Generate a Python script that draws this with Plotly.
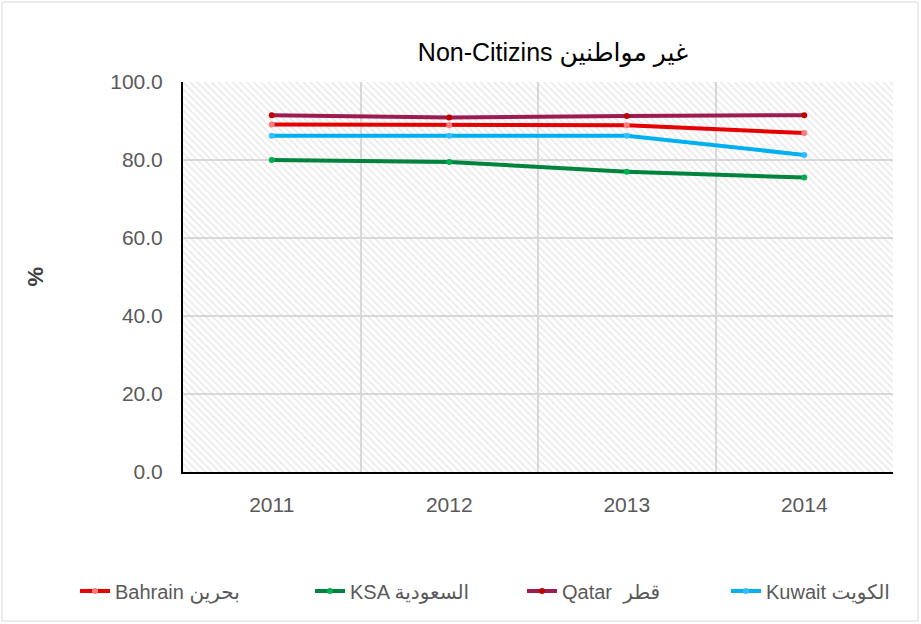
import plotly.graph_objects as go

years = ["2011", "2012", "2013", "2014"]
bahrain = [89.1, 88.9, 88.9, 86.9]
ksa = [80.0, 79.5, 77.0, 75.5]
qatar = [91.5, 90.9, 91.3, 91.5]
kuwait = [86.2, 86.2, 86.2, 81.3]
y_max = 100
y_ticks = [0, 20, 40, 60, 80, 100]

series = [
    ("Bahrain بحرين", bahrain, "#E60000", "#FF7C80"),
    ("KSA السعودية", ksa, "#00843D", "#00B050"),
    ("Qatar  قطر", qatar, "#9C1C52", "#C00000"),
    ("Kuwait الكويت", kuwait, "#00B0F0", "#33BFFF"),
]

L, R, T, B = 183, 28, 82, 152
W, H = 921, 624
PW, PH = W - L - R, H - T - B
legend_text_x = [115, 350, 562, 766]   # pixel where each legend text starts
legend_y_px = 591

fig = go.Figure()

# hatched plot background
fig.add_trace(go.Bar(
    x=years, y=[y_max] * len(years), width=1,
    marker=dict(color="rgba(0,0,0,0)", line=dict(width=0),
                pattern=dict(shape="\\", fgcolor="#d0d0d0", bgcolor="rgba(0,0,0,0)",
                             size=5, solidity=0.3)),
    showlegend=False, hoverinfo="skip",
))

font_family = "Liberation Sans, Noto Sans, DejaVu Sans"
legends = {}
for i, (name, vals, lc, mc) in enumerate(series):
    lg = "legend" if i == 0 else f"legend{i + 1}"
    fig.add_trace(go.Scatter(
        x=years, y=vals, name=name, mode="lines+markers",
        line=dict(color=lc, width=4),
        marker=dict(color=mc, size=6),
        legend=lg,
    ))
    legends[lg] = dict(
        orientation="h", x=(legend_text_x[i] - 40 - L) / PW, xanchor="left",
        y=(H - B - legend_y_px) / PH, yanchor="middle",
        font=dict(size=20, color="#595959", family=font_family),
        bgcolor="rgba(0,0,0,0)",
    )

fig.update_layout(
    width=W, height=H,
    margin=dict(l=L, r=R, t=T, b=B, autoexpand=False),
    paper_bgcolor="white", plot_bgcolor="white",
    font=dict(family=font_family, color="#595959", size=21),
    title=dict(text="Non-Citizins غير مواطنين", x=553 / W, xanchor="center",
               y=1 - 52 / H, yanchor="middle",
               font=dict(size=25, color="black", family=font_family)),
    showlegend=True,
    bargap=0,
    **legends,
)
fig.update_xaxes(
    type="category", tickson="boundaries", showgrid=True, gridcolor="#d9d9d9", gridwidth=1.5,
    showline=True, linecolor="black", linewidth=2, ticks="", ticklabelstandoff=13,
    range=[-0.5, 3.5], zeroline=False, automargin=False,
)
fig.update_yaxes(
    range=[0, y_max], tickvals=y_ticks, tickformat=".1f", showgrid=True,
    gridcolor="#d9d9d9", gridwidth=1.5, showline=True, linecolor="black", linewidth=2,
    ticks="", ticklabelstandoff=14, zeroline=False, automargin=False,
)
fig.add_annotation(text="<b>%</b>", xref="paper", yref="paper", x=(20 - L) / PW, y=0.5,
                   showarrow=False, textangle=-90, font=dict(size=22, color="#404040"))
fig.add_shape(type="rect", xref="paper", yref="paper",
              x0=(2 - L) / PW, x1=(W - 3 - L) / PW, y0=(H - B - 621) / PH, y1=(H - B - 2) / PH,
              line=dict(color="#d9d9d9", width=1), fillcolor="rgba(0,0,0,0)", layer="below")

fig.write_html("out.html", config={"displayModeBar": False},
               post_script="document.body.style.margin='0px';document.body.style.overflow='hidden';")
